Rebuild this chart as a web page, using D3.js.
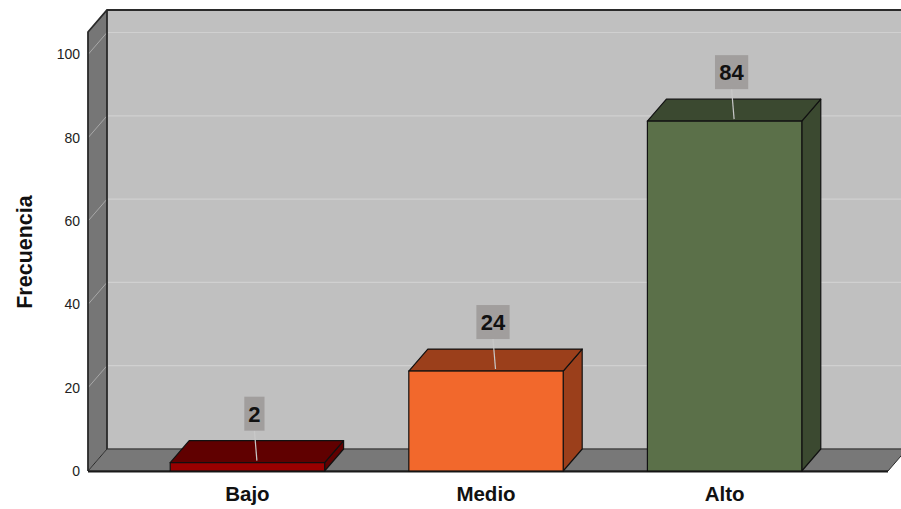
<!DOCTYPE html>
<html>
<head>
<meta charset="utf-8">
<script src="https://cdn.jsdelivr.net/npm/d3@7"></script>
<style>
  body { margin: 0; background: #fff; }
  svg text { font-family: "Liberation Sans", Arial, sans-serif; }
</style>
</head>
<body>
<div id="chart"></div>
<script>
// data
var categories = ['Bajo', 'Medio', 'Alto'];
var values = [2, 24, 84];
var yTicks = [0, 20, 40, 60, 80, 100];
var frontColors = ['#990000', '#f2682c', '#5b7049'];
var darkColors = ['#600000', '#9b3f1b', '#3b4930'];

var W = 901, H = 509;
var dx = 19, dy = 22;          // depth offset of the 3d box
var x0 = 88, x1 = 888;         // front plane horizontal extent
var baseY = 471, topY = 32;    // front plane vertical extent

var svg = d3.select('#chart').append('svg')
    .attr('width', W)
    .attr('height', H);

var x = d3.scaleBand()
    .domain(categories)
    .range([x0 - 2, x1 - 2])
    .padding(0.353);

var y = d3.scaleLinear()
    .domain([0, 100])
    .range([baseY, 54.5]);

function poly(pts) { return 'M' + pts.map(function(p) { return p.join(','); }).join('L') + 'Z'; }

// back wall
svg.append('path')
    .attr('d', poly([[x0 + dx, topY - dy], [W + 20, topY - dy], [W + 20, baseY - dy], [x0 + dx, baseY - dy]]))
    .attr('fill', '#c0c0c0');

// grid lines on back wall
svg.selectAll('line.grid')
    .data(yTicks.slice(1))
  .enter().append('line')
    .attr('class', 'grid')
    .attr('x1', x0 + dx).attr('x2', W)
    .attr('y1', function(d) { return y(d) - dy; })
    .attr('y2', function(d) { return y(d) - dy; })
    .attr('stroke', '#d0d0d0')
    .attr('stroke-width', 1.2);

// left wall
svg.append('path')
    .attr('d', poly([[x0, topY], [x0 + dx, topY - dy], [x0 + dx, baseY - dy], [x0, baseY]]))
    .attr('fill', '#767676');

svg.selectAll('line.lgrid')
    .data(yTicks.slice(1))
  .enter().append('line')
    .attr('class', 'lgrid')
    .attr('x1', x0).attr('x2', x0 + dx)
    .attr('y1', function(d) { return y(d); })
    .attr('y2', function(d) { return y(d) - dy; })
    .attr('stroke', '#a8a8a8')
    .attr('stroke-width', 1);

// floor
svg.append('path')
    .attr('d', poly([[x0, baseY], [x0 + dx, baseY - dy], [x1 + dx, baseY - dy], [x1, baseY]]))
    .attr('fill', '#787878')
    .attr('stroke', '#2a2a2a')
    .attr('stroke-width', 1);

svg.append('line')
    .attr('x1', x0 + dx).attr('x2', W)
    .attr('y1', baseY - dy).attr('y2', baseY - dy)
    .attr('stroke', '#555').attr('stroke-width', 1);

// wall outlines
svg.append('path')
    .attr('d', 'M' + x0 + ',' + baseY + 'L' + x0 + ',' + topY + 'L' + (x0 + dx) + ',' + (topY - dy) + 'L' + (W + 5) + ',' + (topY - dy))
    .attr('fill', 'none').attr('stroke', '#2a2a2a').attr('stroke-width', 1.8);
svg.append('line')
    .attr('x1', x0 + dx).attr('x2', x0 + dx)
    .attr('y1', topY - dy).attr('y2', baseY - dy)
    .attr('stroke', '#2a2a2a').attr('stroke-width', 1.8);
svg.append('line')
    .attr('x1', x0).attr('x2', x1)
    .attr('y1', baseY + 0.5).attr('y2', baseY + 0.5)
    .attr('stroke', '#1a1a1a').attr('stroke-width', 2.2);

// bars
var bars = svg.selectAll('g.bar')
    .data(values)
  .enter().append('g')
    .attr('class', 'bar');

bars.append('path')   // side
    .attr('d', function(d, i) {
      var xr = x(categories[i]) + x.bandwidth(), t = y(d);
      return poly([[xr, t], [xr + dx, t - dy], [xr + dx, baseY - dy], [xr, baseY]]);
    })
    .attr('fill', function(d, i) { return darkColors[i]; })
    .attr('stroke', '#111').attr('stroke-width', 1.2).attr('stroke-linejoin', 'round');

bars.append('path')   // top
    .attr('d', function(d, i) {
      var xl = x(categories[i]), xr = xl + x.bandwidth(), t = y(d);
      return poly([[xl, t], [xl + dx, t - dy], [xr + dx, t - dy], [xr, t]]);
    })
    .attr('fill', function(d, i) { return darkColors[i]; })
    .attr('stroke', '#111').attr('stroke-width', 1.2).attr('stroke-linejoin', 'round');

bars.append('rect')   // front
    .attr('x', function(d, i) { return x(categories[i]); })
    .attr('y', function(d) { return y(d); })
    .attr('width', x.bandwidth())
    .attr('height', function(d) { return baseY - y(d); })
    .attr('fill', function(d, i) { return frontColors[i]; })
    .attr('stroke', '#111').attr('stroke-width', 1.2);

// value labels
bars.each(function(d, i) {
  var g = d3.select(this);
  var cx = x(categories[i]) + x.bandwidth() / 2;
  var t = y(d);
  var bx = cx + 7, bBottom = t - 32;
  g.append('line')
    .attr('x1', bx).attr('y1', bBottom)
    .attr('x2', cx + dx / 2).attr('y2', t - 2)
    .attr('stroke', '#c8c8c8').attr('stroke-width', 1.2);
  var txt = g.append('text')
    .attr('x', bx).attr('y', bBottom - 9)
    .attr('text-anchor', 'middle')
    .attr('font-size', 22).attr('font-weight', 'bold')
    .attr('fill', '#111')
    .text(d);
  var w = txt.node().getBBox().width + 8;
  g.insert('rect', 'text')
    .attr('x', bx - w / 2).attr('y', bBottom - 34)
    .attr('width', w).attr('height', 34)
    .attr('fill', '#a19e9d');
});

// y axis
var yAxis = svg.append('g')
    .attr('transform', 'translate(' + x0 + ',0)')
    .call(d3.axisLeft(y).tickValues(yTicks).tickSize(0).tickPadding(8));
yAxis.select('.domain').remove();
yAxis.selectAll('text')
    .attr('font-family', '"Liberation Sans", Arial, sans-serif')
    .attr('font-size', 14).attr('fill', '#222');

svg.append('text')
    .attr('transform', 'translate(32,252) rotate(-90)')
    .attr('text-anchor', 'middle')
    .attr('font-size', 21.5).attr('font-weight', 'bold')
    .attr('fill', '#111')
    .text('Frecuencia');

// x labels
svg.selectAll('text.xl')
    .data(categories)
  .enter().append('text')
    .attr('class', 'xl')
    .attr('x', function(d) { return x(d) + x.bandwidth() / 2; })
    .attr('y', 501)
    .attr('text-anchor', 'middle')
    .attr('font-size', 20.5).attr('font-weight', 'bold')
    .attr('fill', '#111')
    .text(function(d) { return d; });
</script>
</body>
</html>
